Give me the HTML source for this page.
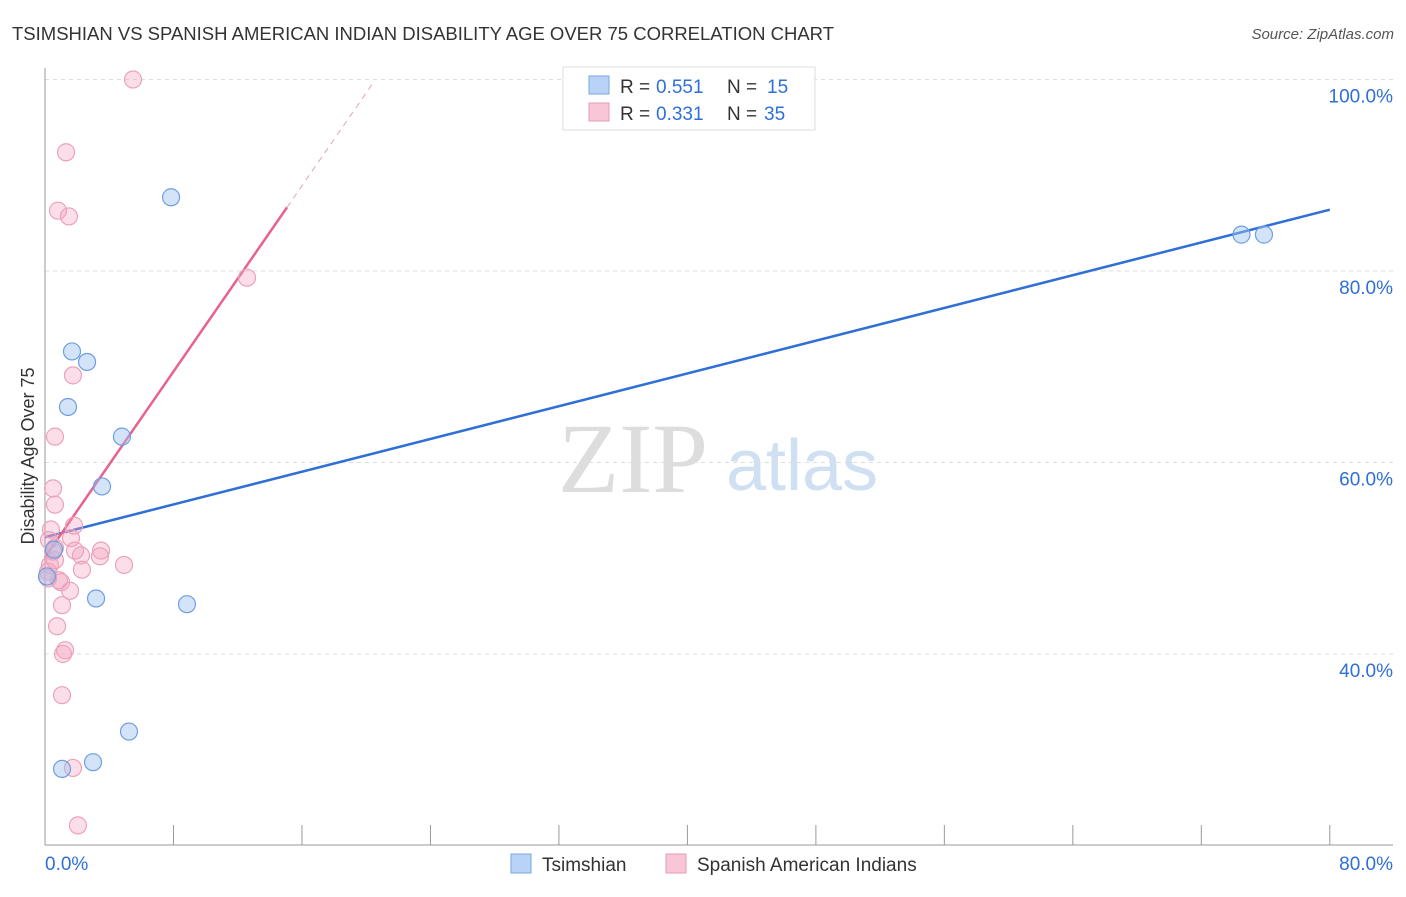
<!DOCTYPE html>
<html><head><meta charset="utf-8"><style>
body{margin:0;background:#fff;font-family:"Liberation Sans",sans-serif;}
</style></head><body>
<svg id="chart" width="1406" height="892" xmlns="http://www.w3.org/2000/svg">
<text x="12" y="40" font-size="18.5" fill="#333" textLength="822">TSIMSHIAN VS SPANISH AMERICAN INDIAN DISABILITY AGE OVER 75 CORRELATION CHART</text>
<text x="1394" y="39" font-size="15" fill="#555" text-anchor="end" font-style="italic">Source: ZipAtlas.com</text>
<text x="0" y="0" transform="translate(34,456) rotate(-90)" font-size="18" fill="#333" text-anchor="middle">Disability Age Over 75</text>
<g><text x="633" y="492" font-size="100" font-family="Liberation Serif,serif" fill="#ddd" text-anchor="middle">ZIP</text><text x="802" y="490" font-size="72" fill="#cfe0f3" text-anchor="middle">atlas</text></g>
<g id="grid"></g><g id="axes"></g><g id="lines"></g><g id="pts"></g>
<g>
<rect x="563" y="67" width="252" height="63" fill="#fff" stroke="#ddd"/>
<rect x="589" y="76" width="20" height="18" fill="#b9d3f6" stroke="#7aa7e0"/>
<rect x="589" y="103" width="20" height="18" fill="#f8c6d6" stroke="#e89ab4"/>
<text x="620" y="93" font-size="19" fill="#333">R =</text><text x="656" y="93" font-size="19" fill="#2f6fd6">0.551</text>
<text x="727" y="93" font-size="19" fill="#333">N =</text><text x="767" y="93" font-size="19" fill="#2f6fd6">15</text>
<text x="620" y="120" font-size="19" fill="#333">R =</text><text x="656" y="120" font-size="19" fill="#2f6fd6">0.331</text>
<text x="727" y="120" font-size="19" fill="#333">N =</text><text x="764" y="120" font-size="19" fill="#2f6fd6">35</text>
</g>
<g>
<rect x="511" y="854" width="20" height="19" fill="#b9d3f6" stroke="#7aa7e0"/>
<text x="542" y="871" font-size="19" fill="#333">Tsimshian</text>
<rect x="666" y="854" width="20" height="19" fill="#f8c6d6" stroke="#e89ab4"/>
<text x="697" y="871" font-size="19" fill="#333">Spanish American Indians</text>
</g>
</svg>
<script>
const blueX=[7.85,74.5,75.9,1.68,2.62,1.43,4.79,3.55,3.18,8.84,5.23,2.99,1.06,0.12,0.56];
const blueY=[87.7,83.8,83.8,71.6,70.5,65.8,62.7,57.5,45.8,45.2,31.9,28.7,28.0,48.1,50.9];
const pinkX=[5.48,1.31,0.81,1.49,12.58,1.74,0.62,0.50,0.62,0.37,1.81,0.25,1.62,0.62,1.87,2.24,3.49,3.42,4.92,2.30,0.19,0.19,1.00,0.87,1.56,1.06,0.75,1.25,1.12,1.06,1.74,2.05,0.62,0.31,0.5];
const pinkY=[100.0,92.4,86.3,85.7,79.3,69.1,62.7,57.3,55.6,53.0,53.4,51.9,52.1,51.1,50.8,50.3,50.8,50.2,49.3,48.8,48.6,47.9,47.5,47.7,46.6,45.1,42.9,40.4,40.0,35.7,28.1,22.1,49.8,49.3,50.7];
const blueTrend=[52.2,0.4275];
const pinkTrend=[50.1,2.425];
const yTicks=[40,60,80,100];
const xTickLabels=["0.0%","80.0%"];
const NS="http://www.w3.org/2000/svg";
const X=v=>45+v*16.06, Y=v=>654-(v-40)*9.575;
function el(p,t,a){const e=document.createElementNS(NS,t);for(const k in a)e.setAttribute(k,a[k]);document.getElementById(p).appendChild(e);return e;}
yTicks.forEach(t=>{
 const l=el('grid','line',{x1:45,x2:1393,y1:Y(t),y2:Y(t),stroke:'#ddd','stroke-dasharray':'4,4'});
 
 
 const tx=el('grid','text',{x:1393,y:Y(t)+23,'font-size':19,fill:'#2f6fd6','text-anchor':'end'});
 tx.textContent=t.toFixed(1)+'%';
 
 
});
el('axes','line',{x1:45,x2:45,y1:68,y2:845,stroke:'#999'});
el('axes','line',{x1:45,x2:1393,y1:845,y2:845,stroke:'#999'});
for(let i=0;i<=10;i++){const t=el('axes','line',{x1:X(i*8),x2:X(i*8),y1:825,y2:845,stroke:'#999'});
 
 }
const a=el('axes','text',{x:45,y:870,'font-size':19,fill:'#2f6fd6'});a.textContent=xTickLabels[0];


const b=el('axes','text',{x:1393,y:870,'font-size':19,fill:'#2f6fd6','text-anchor':'end'});b.textContent=xTickLabels[1];


const bl=el('lines','line',{x1:X(0),y1:Y(blueTrend[0]),x2:X(80),y2:Y(blueTrend[0]+80*blueTrend[1]),stroke:'#2f6fd6','stroke-width':2.5});


const pl=el('lines','line',{x1:X(0),y1:Y(pinkTrend[0]),x2:X(15.07),y2:Y(pinkTrend[0]+15.07*pinkTrend[1]),stroke:'#e8628e','stroke-width':2.5});


const pd=el('lines','line',{x1:X(15.07),y1:Y(pinkTrend[0]+15.07*pinkTrend[1]),x2:X(20.4),y2:Y(pinkTrend[0]+20.4*pinkTrend[1]),stroke:'#eaa0b8','stroke-width':1,'stroke-dasharray':'6,5'});


pinkX.forEach((x,i)=>{const c=el('pts','circle',{cx:X(x),cy:Y(pinkY[i]),r:8.5,fill:'rgba(244,160,188,0.35)',stroke:'#eba2bb','stroke-width':1.2});
 
 });
blueX.forEach((x,i)=>{const c=el('pts','circle',{cx:X(x),cy:Y(blueY[i]),r:8.5,fill:'rgba(160,195,240,0.45)',stroke:'#6f9ee0','stroke-width':1.2});
 
 });
</script>
</body></html>
